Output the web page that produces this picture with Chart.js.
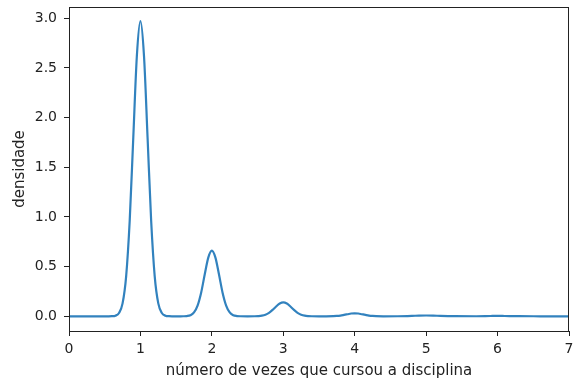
<!DOCTYPE html>
<html>
<head>
<meta charset="utf-8">
<script src="https://cdn.jsdelivr.net/npm/chart.js@4/dist/chart.umd.min.js"></script>
<style>
  html, body { margin: 0; padding: 0; background: #fff; }
  #wrap { width: 575px; height: 383px; }
</style>
</head>
<body>
<div id="wrap"><canvas id="myChart" width="575" height="383"></canvas></div>
<script>
// density curve (x = times the course was taken)
const xs = [0, 0.4, 0.5, 0.55, 0.6, 0.65, 0.7, 0.75, 0.8, 0.85, 0.9, 0.95,
  1.0, 1.05, 1.1, 1.15, 1.2, 1.25, 1.3, 1.35, 1.4, 1.45, 1.5, 1.55, 1.6, 1.65,
  1.7, 1.75, 1.8, 1.85, 1.9, 1.95, 2.0, 2.05, 2.1, 2.15, 2.2, 2.25, 2.3, 2.35,
  2.4, 2.5, 2.6, 2.65, 2.7, 2.75, 2.8, 2.85, 2.9, 2.95, 3.0, 3.05, 3.1, 3.15,
  3.2, 3.25, 3.3, 3.35, 3.4, 3.5, 3.6, 3.7, 3.75, 3.8, 3.85, 3.9, 3.95, 4.0,
  4.05, 4.1, 4.15, 4.2, 4.25, 4.3, 4.4, 4.6, 4.8, 4.9, 5.0, 5.1, 5.2, 5.4,
  5.7, 5.9, 6.0, 6.1, 6.3, 6.6, 7.0];
const density = [0, 0, 0, 0.0001, 0.001, 0.0065, 0.033, 0.13, 0.402, 0.964, 1.8, 2.62,
  2.97, 2.62, 1.8, 0.964, 0.402, 0.13, 0.033, 0.0065, 0.001, 0.0001, 0, 0.0001, 0.0005, 0.0026,
  0.011, 0.039, 0.108, 0.238, 0.42, 0.59, 0.66, 0.59, 0.42, 0.238, 0.108, 0.039, 0.011, 0.0026,
  0.0005, 0, 0.0005, 0.002, 0.006, 0.016, 0.035, 0.064, 0.099, 0.128, 0.14, 0.128, 0.099, 0.064,
  0.035, 0.016, 0.006, 0.002, 0.0005, 0, 0.0001, 0.0013, 0.0034, 0.0075, 0.014, 0.021, 0.028, 0.03,
  0.028, 0.021, 0.014, 0.0075, 0.0034, 0.0013, 0.0001, 0.0005, 0.004, 0.007, 0.008, 0.007, 0.004, 0.001,
  0.0005, 0.003, 0.004, 0.003, 0.001, 0.0002, 0];
const xTicks = [0, 1, 2, 3, 4, 5, 6, 7];
const yTicks = [0, 0.5, 1, 1.5, 2, 2.5, 3];

const frame = {
  id: 'frame',
  afterDraw(chart) {
    const a = chart.chartArea, c = chart.ctx;
    c.save();
    c.strokeStyle = '#222';
    c.lineWidth = 1;
    c.strokeRect(a.left + 0.5, a.top + 0.5, a.right - a.left - 1, a.bottom - a.top);
    c.restore();
  }
};

const tickFont = { family: 'DejaVu Sans', size: 14 };
const titleFont = { family: 'DejaVu Sans', size: 15 };
const ctx = document.getElementById('myChart').getContext('2d');
new Chart(ctx, {
  type: 'scatter',
  data: {
    datasets: [{
      data: xs.map((x, i) => ({ x: x, y: density[i] })),
      showLine: true,
      borderColor: '#3282be',
      borderWidth: 2.2,
      pointRadius: 0,
      cubicInterpolationMode: 'monotone',
      fill: false
    }]
  },
  plugins: [frame],
  options: {
    responsive: false,
    animation: false,
    layout: { padding: { top: 7, right: 6, left: 0, bottom: 0 } },
    plugins: { legend: { display: false }, tooltip: { enabled: false } },
    scales: {
      x: {
        type: 'linear', min: 0, max: 7,
        afterBuildTicks: s => { s.ticks = xTicks.map(v => ({ value: v })); },
        afterFit: s => { s.height = 52; s.paddingLeft = 0; s.paddingRight = 0; },
        ticks: { font: tickFont, color: '#222', padding: 5, callback: v => String(v) },
        grid: { drawOnChartArea: false, drawTicks: true, tickLength: 5, tickColor: '#222' },
        border: { color: '#222' },
        title: { display: true, text: 'número de vezes que cursou a disciplina', font: titleFont, color: '#222', padding: { top: 0, bottom: 3 } }
      },
      y: {
        type: 'linear', min: -0.148, max: 3.113,
        afterBuildTicks: s => { s.ticks = yTicks.map(v => ({ value: v })); },
        afterFit: s => { s.width = 69; s.paddingTop = 0; s.paddingBottom = 0; },
        ticks: { font: tickFont, color: '#222', padding: 7, callback: v => Number(v).toFixed(1) },
        grid: { drawOnChartArea: false, drawTicks: true, tickLength: 5, tickColor: '#222' },
        border: { color: '#222' },
        title: { display: true, text: 'densidade', font: titleFont, color: '#222', padding: { top: 11, bottom: 2 } }
      }
    }
  }
});
</script>
</body>
</html>
